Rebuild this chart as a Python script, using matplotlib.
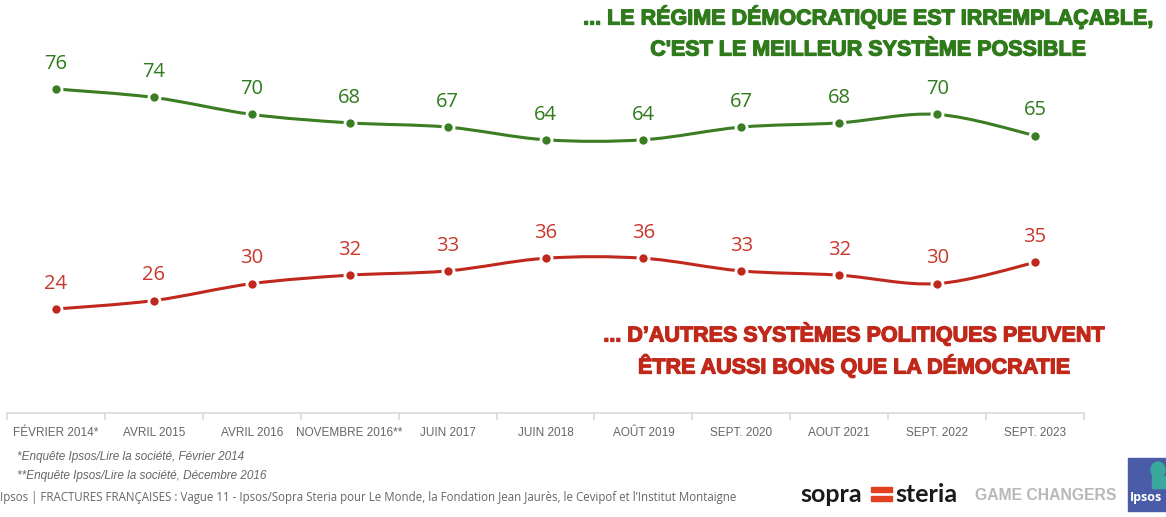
import matplotlib.pyplot as plt
import matplotlib.patheffects as pe
from matplotlib.path import Path
from matplotlib.patches import PathPatch, Rectangle, Ellipse

labels = ["Février 2014*", "Avril 2015", "Avril 2016", "Novembre 2016**", "Juin 2017",
          "Juin 2018", "Août 2019", "Sept. 2020", "Aout 2021", "Sept. 2022", "Sept. 2023"]
irremplacable = [76, 74, 70, 68, 67, 64, 64, 67, 68, 70, 65]
autres_systemes = [24, 26, 30, 32, 33, 36, 36, 33, 32, 30, 35]

GREEN = "#3a7d22"
GREEN_TXT = "#2f7a1c"
RED = "#c0281d"
RED_TXT = "#c9372c"
W, H = 1166, 517


def smooth_path(xs, ys):
    # courbe lissée (bezier) passant par les points, comme une courbe Excel
    verts = [(xs[0], ys[0])]
    codes = [Path.MOVETO]
    n = len(xs)
    for i in range(n - 1):
        a = i - 1 if i > 0 else i
        b = i + 2 if i + 2 < n else i + 1
        c1 = (xs[i] + (xs[i + 1] - xs[a]) / 6, ys[i] + (ys[i + 1] - ys[a]) / 6)
        c2 = (xs[i + 1] - (xs[b] - xs[i]) / 6, ys[i + 1] - (ys[b] - ys[i]) / 6)
        verts += [c1, c2, (xs[i + 1], ys[i + 1])]
        codes += [Path.CURVE4] * 3
    return Path(verts, codes)


def px(x, y):
    return x / W, 1 - y / H


fig = plt.figure(figsize=(W / 100, H / 100), dpi=100)
ax = fig.add_axes([7 / W, 1 - 413 / H, 1077 / W, 413 / H])
x = list(range(len(labels)))

for vals, col, tcol in [(irremplacable, GREEN, GREEN_TXT), (autres_systemes, RED, RED_TXT)]:
    ax.add_patch(PathPatch(smooth_path(x, vals), fill=False, edgecolor=col, lw=2.2, zorder=2))
    ax.plot(x, vals, 'o', color=col, markersize=8, markeredgecolor="white", markeredgewidth=2, zorder=3)
    for xi, v in zip(x, vals):
        ax.annotate(str(v), (xi, v), xytext=(0, 11), textcoords="offset points",
                    ha="center", va="bottom", fontsize=14.5, color=tcol, family="Open Sans")

ax.set_xlim(-0.5, 10.5)
ax.set_ylim(-0.58, 97.04)
for s in ["top", "right", "left"]:
    ax.spines[s].set_visible(False)
ax.spines["bottom"].set_color("#d9d9d9")
ax.spines["bottom"].set_linewidth(1.2)
ax.set_yticks([])
ax.set_xticks(x)
ax.set_xticklabels([l.upper() for l in labels], fontsize=8.5, color="#666666",
                   family=["Liberation Sans Narrow", "Liberation Sans"])
ax.tick_params(axis="x", which="major", length=0, pad=10)
ax.set_xticks([i - 0.5 for i in range(len(labels) + 1)], minor=True)
ax.tick_params(axis="x", which="minor", length=5, color="#d9d9d9", width=1.2)

# titres des séries
hfont = dict(family="Liberation Sans", weight="bold", fontsize=15.5, ha="center", va="center")
g_fx = [pe.withStroke(linewidth=0.9, foreground="#2f7a1a")]
r_fx = [pe.withStroke(linewidth=0.9, foreground="#c0281a")]
fig.text(*px(867, 17), "... LE RÉGIME DÉMOCRATIQUE EST IRREMPLAÇABLE,", color="#2f7a1a",
         path_effects=g_fx, **hfont)
fig.text(*px(867, 50), "C'EST LE MEILLEUR SYSTÈME POSSIBLE", color="#2f7a1a", path_effects=g_fx, **hfont)
fig.text(*px(853, 334), "... D’AUTRES SYSTÈMES POLITIQUES PEUVENT", color="#c0281a",
         path_effects=r_fx, **hfont)
fig.text(*px(853, 366), "ÊTRE AUSSI BONS QUE LA DÉMOCRATIE", color="#c0281a", path_effects=r_fx, **hfont)

# notes
nfont = dict(family=["Liberation Sans Narrow", "Liberation Sans"], style="italic", fontsize=8.5,
             color="#666666", ha="left", va="center")
fig.text(*px(17, 457), "*Enquête Ipsos/Lire la société, Février 2014", **nfont)
fig.text(*px(17, 476), "**Enquête Ipsos/Lire la société, Décembre 2016", **nfont)
fig.text(*px(0, 497), "Ipsos | FRACTURES FRANÇAISES : Vague 11 - Ipsos/Sopra Steria pour Le Monde, "
         "la Fondation Jean Jaurès, le Cevipof et l’Institut Montaigne",
         family="Open Sans", fontsize=8.3, color="#666666", ha="left", va="center")

# logos
fig.text(*px(800, 495), "sopra", family="Lato", weight="bold", fontsize=18, color="#1a1a1a",
         ha="left", va="center")
fig.text(*px(895, 495), "steria", family="Lato", weight="bold", fontsize=18, color="#1a1a1a",
         ha="left", va="center")
fig.add_artist(Rectangle(px(871, 492), 21 / W, 5 / H, color="#e2401f", transform=fig.transFigure))
fig.add_artist(Rectangle(px(871, 501), 21 / W, 5 / H, color="#e2401f", transform=fig.transFigure))
fig.text(*px(975, 496), "GAME CHANGERS", family="Liberation Sans", weight="bold", fontsize=11.3,
         color="#b8b8b8", ha="left", va="center")
fig.add_artist(Rectangle(px(1128, 511), 45 / W, 53 / H, color="#4a5ba8", transform=fig.transFigure))
fig.add_artist(Ellipse(px(1158, 470), 14 / W, 16 / H, color="#3aa89c", transform=fig.transFigure))
fig.add_artist(Rectangle(px(1152, 488), 14 / W, 12 / H, color="#3aa89c", transform=fig.transFigure))
fig.text(*px(1130, 497), "Ipsos", family="Open Sans", weight="bold", fontsize=9, color="white",
         ha="left", va="center")

fig.savefig("out.png", dpi=100)
